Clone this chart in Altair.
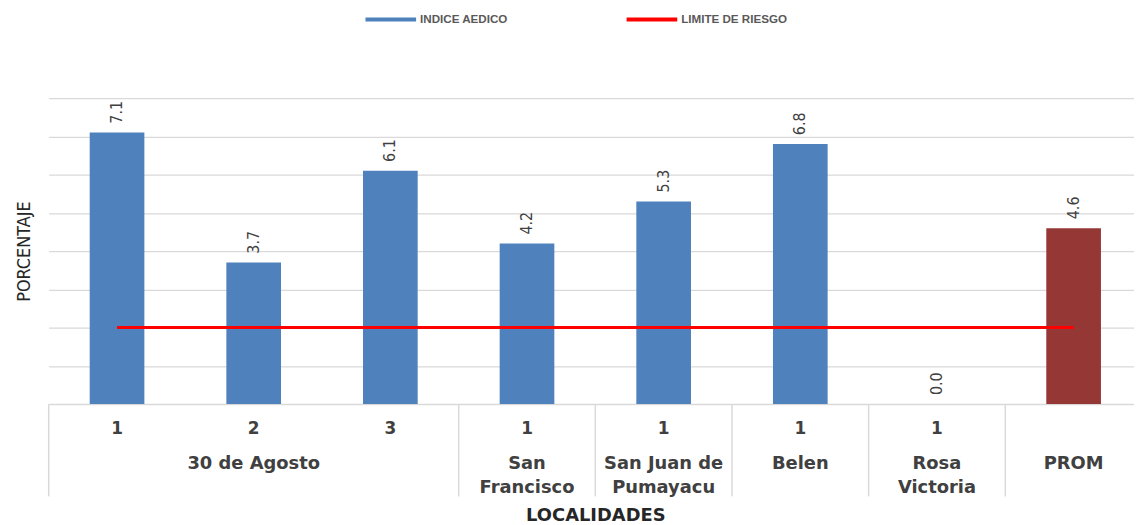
import altair as alt
import pandas as pd

# ---- data ----
localidad = ["30 de Agosto", "30 de Agosto", "30 de Agosto", "San Francisco",
             "San Juan de Pumayacu", "Belen", "Rosa Victoria", "PROM"]
sector = ["1", "2", "3", "1", "1", "1", "1", ""]
indice = [7.1, 3.7, 6.1, 4.2, 5.3, 6.8, 0.0, 4.6]
limite_riesgo = 2.0
grupo_lineas = {
    "30 de Agosto": ["30 de Agosto"],
    "San Francisco": ["San", "Francisco"],
    "San Juan de Pumayacu": ["San Juan de", "Pumayacu"],
    "Belen": ["Belen"],
    "Rosa Victoria": ["Rosa", "Victoria"],
    "PROM": ["PROM"],
}
color_barra = ["#4f81bd"] * 7 + ["#953735"]
series = ["INDICE AEDICO", "LIMITE DE RIESGO"]
series_colors = ["#4f81bd", "#ff0000"]

keys = [f"{i}:{s}" for i, s in enumerate(sector)]

bars_df = pd.DataFrame({"key": keys, "valor": indice, "color": color_barra,
                        "label": [f"{v:.1f}" for v in indice]})

grp_rows, sep_rows = [], []
for g in dict.fromkeys(localidad):
    idx = [i for i, l in enumerate(localidad) if l == g]
    mid = idx[len(idx) // 2]
    grp_rows.append({"key": keys[mid], "texto": "\n".join(grupo_lineas[g])})
    sep_rows.append({"key": keys[idx[0]]})
grp_df = pd.DataFrame(grp_rows)
sep_df = pd.DataFrame(sep_rows)

line_df = pd.DataFrame({"key": [keys[0], keys[-1]],
                        "valor": [limite_riesgo, limite_riesgo],
                        "serie": ["LIMITE DE RIESGO"] * 2})

W, H = 1101, 308
TXT = "#404040"
BOLD = "DejaVu Sans"
COND = "'DejaVu Sans Condensed', 'DejaVu Sans', sans-serif"

xscale = alt.Scale(domain=keys, paddingInner=0, paddingOuter=0)
yscale = alt.Scale(domain=[0, 8], nice=False)

xaxis = alt.Axis(labelExpr="split(datum.label, ':')[1]", labelAngle=0,
                 labelFont=BOLD, labelFontSize=17, labelFontWeight="bold",
                 labelColor=TXT, labelPadding=17, ticks=False, domain=False,
                 grid=False, title="LOCALIDADES", titleFont=BOLD, titleFontSize=18,
                 titleFontWeight="bold", titleColor="#262626", titlePadding=70)
yaxis = alt.Axis(values=list(range(9)), grid=True, gridColor="#d9d9d9",
                 gridWidth=1.3, labels=False, ticks=False, domain=False,
                 title="PORCENTAJE", titleFont=COND, titleFontSize=18,
                 titleFontWeight="normal", titleColor="#262626", titlePadding=15)


def X(**kw):
    return alt.X("key:N", sort=keys, scale=xscale, axis=xaxis, **kw)


def Y():
    return alt.Y("valor:Q", scale=yscale, axis=yaxis)


bars = alt.Chart(bars_df).mark_bar(width=alt.RelativeBandSize(0.4)).encode(
    x=X(), y=Y(), color=alt.Color("color:N", scale=None),
)

values = alt.Chart(bars_df).mark_text(
    angle=270, align="left", baseline="middle", dx=9,
    font=COND, fontSize=16, color=TXT,
).encode(x=X(), y=Y(), text="label:N")

seps = alt.Chart(sep_df).mark_rule(color="#d9d9d9", strokeWidth=1.5).encode(
    x=X(bandPosition=0),
    y=alt.value(H),
    y2=alt.value(H + 93),
)

groups = alt.Chart(grp_df).mark_text(
    font=BOLD, fontSize=18, fontWeight="bold", color=TXT,
    baseline="middle", lineBreak="\n", lineHeight=25,
).encode(x=X(), y=alt.value(H + 60), text="texto:N")

line = alt.Chart(line_df).mark_line(strokeWidth=3).encode(
    x=X(), y=Y(),
    color=alt.Color("serie:N",
                    scale=alt.Scale(domain=series, range=series_colors),
                    legend=alt.Legend(orient="none", legendX=317, legendY=-107,
                                      direction="horizontal", title=None,
                                      symbolType="stroke", symbolSize=2600,
                                      symbolStrokeWidth=4, labelFont="Liberation Sans",
                                      labelFontSize=11.7, labelFontWeight="bold",
                                      labelColor="#595959", labelOffset=2,
                                      columnPadding=111, padding=0)),
)

chart = alt.layer(bars, seps, line, values, groups).properties(
    width=W, height=H,
    autosize=alt.AutoSizeParams(type="none"),
    padding={"left": 41, "top": 89, "right": -8, "bottom": 120},
).configure_view(stroke=None)

chart.save("out.html", embed_options={"renderer": "svg", "actions": False})
